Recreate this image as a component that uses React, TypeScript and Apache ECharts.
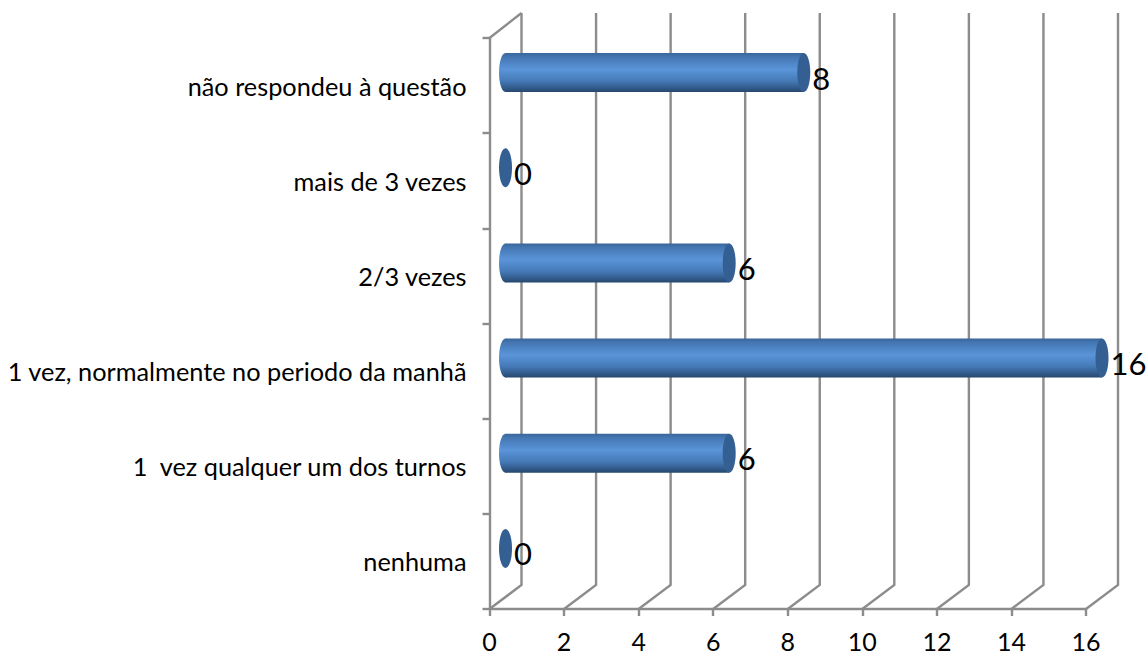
import React, { useEffect, useRef } from "react";
import * as echarts from "echarts";

const categories = [
  "nenhuma",
  "1  vez qualquer um dos turnos",
  "1 vez, normalmente no periodo da manhã",
  "2/3 vezes",
  "mais de 3 vezes",
  "não respondeu à questão",
];
const values = [0, 6, 16, 6, 0, 8];
const wallTicks = [0, 2, 4, 6, 8, 10, 12, 14, 16];

const GRAY = "#8c8c8c";
const LINE = 2.4;
const FONT = "Lato, 'Open Sans', sans-serif";
const DEPTH_X = 32;
const DEPTH_Y = 24;
const WALL_TOP = 13;
const BAR_DX = 16;
const BAR_DY = -13;
const RX = 6.5;
const RY = 19.5;

function bodyGradient() {
  return new echarts.graphic.LinearGradient(0, 0, 0, 1, [
    { offset: 0, color: "#3a6699" },
    { offset: 0.1, color: "#4476b2" },
    { offset: 0.42, color: "#5a95d9" },
    { offset: 0.72, color: "#4579b6" },
    { offset: 0.92, color: "#2f5684" },
    { offset: 1, color: "#26476d" },
  ]);
}

export default function App() {
  const ref = useRef<HTMLDivElement>(null);
  useEffect(() => {
    document.body.style.margin = "0";
    document.body.style.background = "#fff";
    const chart = echarts.init(ref.current!, undefined, { renderer: "svg" });
    chart.setOption({
      animation: false,
      backgroundColor: "#ffffff",
      grid: { left: 489.5, right: 61, top: 38, bottom: 46 },
      xAxis: {
        type: "value",
        min: 0,
        max: 16,
        interval: 2,
        splitLine: { show: false },
        axisLine: { show: true, lineStyle: { color: GRAY, width: LINE } },
        axisTick: { show: true, length: 7, lineStyle: { color: GRAY, width: LINE } },
        axisLabel: { color: "#000", fontSize: 25, fontFamily: FONT, margin: 19 },
      },
      yAxis: {
        type: "category",
        data: categories,
        axisLine: { show: true, lineStyle: { color: GRAY, width: LINE } },
        axisTick: { show: true, length: 7, lineStyle: { color: GRAY, width: LINE } },
        axisLabel: { color: "#000", fontSize: 25.3, fontFamily: FONT, margin: 23 },
      },
      series: [
        {
          type: "custom",
          data: wallTicks.map((t) => [t]),
          clip: false,
          z: 1,
          encode: { x: 0 },
          renderItem: (params: any, api: any) => {
            const cs = params.coordSys;
            const floor = cs.y + cs.height;
            const x = cs.x + (api.value(0) / 16) * cs.width;
            const children: any[] = [
              {
                type: "polyline",
                shape: {
                  points: [
                    [x, floor],
                    [x + DEPTH_X, floor - DEPTH_Y],
                    [x + DEPTH_X, WALL_TOP],
                  ],
                },
                style: { stroke: GRAY, lineWidth: LINE, fill: "none" },
              },
            ];
            if (params.dataIndex === 0) {
              children.push({
                type: "line",
                shape: { x1: x, y1: cs.y, x2: x + DEPTH_X, y2: WALL_TOP },
                style: { stroke: GRAY, lineWidth: LINE },
              });
            }
            return { type: "group", children };
          },
        },
        {
          type: "custom",
          data: values.map((v, i) => [v, i]),
          clip: false,
          z: 3,
          encode: { x: 0, y: 1 },
          renderItem: (_params: any, api: any) => {
            const v = api.value(0);
            const [xEnd, yc] = api.coord([v, api.value(1)]);
            const [x0] = api.coord([0, api.value(1)]);
            const cx0 = x0 + BAR_DX;
            const cx1 = xEnd + BAR_DX;
            const cy = yc + BAR_DY;
            const children: any[] = [];
            if (v > 0) {
              children.push({
                type: "ellipse",
                shape: { cx: cx0, cy, rx: RX, ry: RY },
                style: { fill: bodyGradient() },
              });
              children.push({
                type: "rect",
                shape: { x: cx0, y: cy - RY, width: cx1 - cx0, height: RY * 2 },
                style: { fill: bodyGradient() },
              });
            }
            children.push({
              type: "ellipse",
              shape: { cx: cx1, cy, rx: RX, ry: RY },
              style: { fill: "#345f92" },
            });
            children.push({
              type: "text",
              style: {
                x: cx1 + RX + 2,
                y: cy + 5,
                text: String(v),
                fill: "#000",
                font: `31px ${FONT}`,
                textAlign: "left",
                textVerticalAlign: "middle",
              },
            });
            return { type: "group", children };
          },
        },
      ],
    });
    return () => chart.dispose();
  }, []);
  return <div ref={ref} style={{ width: 1147, height: 655 }} />;
}
